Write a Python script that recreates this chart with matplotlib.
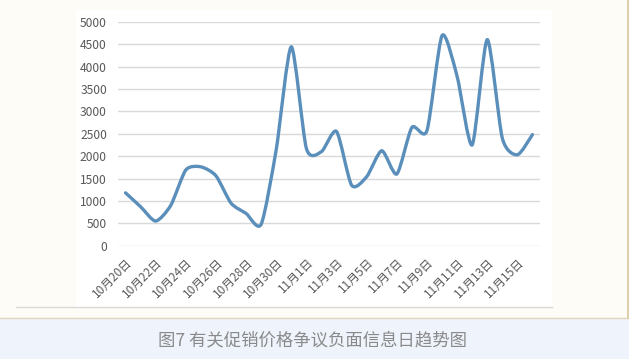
import numpy as np
import matplotlib.pyplot as plt
from matplotlib.path import Path
from matplotlib.patches import PathPatch, Rectangle

plt.rcParams["font.family"] = ["Noto Sans CJK SC", "DejaVu Sans"]

# daily counts, 10/20 .. 11/16
DATES = [f"10月{d}日" for d in range(20, 32)] + [f"11月{d}日" for d in range(1, 17)]
COUNTS = [1180, 870, 550, 900, 1690, 1760, 1560, 950, 720, 480,
          2150, 4440, 2170, 2100, 2550, 1350, 1540, 2120, 1600, 2640,
          2570, 4690, 3780, 2250, 4600, 2400, 2030, 2480]
YTICKS = [0, 500, 1000, 1500, 2000, 2500, 3000, 3500, 4000, 4500, 5000]
CAPTION = "图7 有关促销价格争议负面信息日趋势图"

LINE_COLOR = "#5b8fbb"
TENSION = 0.12  # catmull-rom uses 1/6, excel looks a bit tighter


def smooth_path(xs, ys):
    # smoothed line as cubic bezier segments through every point
    verts = [(xs[0], ys[0])]
    codes = [Path.MOVETO]
    n = len(xs)
    for i in range(n - 1):
        x0, y0 = xs[max(i - 1, 0)], ys[max(i - 1, 0)]
        x1, y1 = xs[i], ys[i]
        x2, y2 = xs[i + 1], ys[i + 1]
        x3, y3 = xs[min(i + 2, n - 1)], ys[min(i + 2, n - 1)]
        c1 = (x1 + (x2 - x0) * TENSION, y1 + (y2 - y0) * TENSION)
        c2 = (x2 - (x3 - x1) * TENSION, y2 - (y3 - y1) * TENSION)
        verts += [c1, c2, (x2, y2)]
        codes += [Path.CURVE4] * 3
    return Path(verts, codes)


def main():
    W, H = 629, 359
    fig = plt.figure(figsize=(W / 100, H / 100), dpi=100, facecolor="#fefcf6")

    # caption band and chart backdrop
    fig.patches.append(Rectangle((0, 0), 1, 41 / H, transform=fig.transFigure,
                                 facecolor="#eef3fc", edgecolor="none", zorder=-10))
    fig.lines.append(plt.Line2D([0, 1], [41 / H, 41 / H], transform=fig.transFigure,
                                color="#e0d6bc", lw=1, zorder=-5))
    fig.lines.append(plt.Line2D([627.5 / W, 627.5 / W], [41 / H, 1], transform=fig.transFigure,
                                color="#d9c89c", lw=1.2, zorder=-5))
    fig.patches.append(Rectangle((76 / W, 1 - 307 / H), (552 - 76) / W, (307 - 10) / H,
                                 transform=fig.transFigure, facecolor="white",
                                 edgecolor="none", zorder=-10))
    fig.lines.append(plt.Line2D([16 / W, 552 / W], [1 - 307 / H, 1 - 307 / H],
                                transform=fig.transFigure, color="#d9d9d9", lw=1, zorder=-5))

    ax = fig.add_axes([118 / W, 1 - 245.7 / H, (540 - 118) / W, (245.7 - 21.7) / H])
    ax.set_facecolor("none")

    xs = np.arange(len(COUNTS))
    ax.add_patch(PathPatch(smooth_path(xs, COUNTS), facecolor="none",
                           edgecolor=LINE_COLOR, lw=2.4, capstyle="round",
                           joinstyle="round", zorder=3))

    ax.set_xlim(-0.5, len(COUNTS) - 0.5)
    ax.set_ylim(0, 5000)
    ax.set_yticks(YTICKS)
    ax.set_yticklabels([str(v) for v in YTICKS], fontsize=8.7, color="#595959")
    ax.grid(axis="y", color="#d9d9d9", lw=1)
    ax.set_axisbelow(True)

    ax.set_xticks(xs[::2])
    ax.set_xticklabels(DATES[::2], rotation=45, ha="right", va="top",
                       rotation_mode="anchor", fontsize=8.5, color="#595959")
    ax.tick_params(axis="x", length=0, pad=7)
    ax.tick_params(axis="y", length=0, pad=8)
    for s in ax.spines.values():
        s.set_visible(False)

    fig.text(313 / W, 1 - 340 / H, CAPTION, ha="center", va="center",
             fontsize=12.5, color="#8a8a8a")

    fig.savefig("out.png", dpi=100, facecolor=fig.get_facecolor())
    plt.close(fig)


if __name__ == "__main__":
    main()
